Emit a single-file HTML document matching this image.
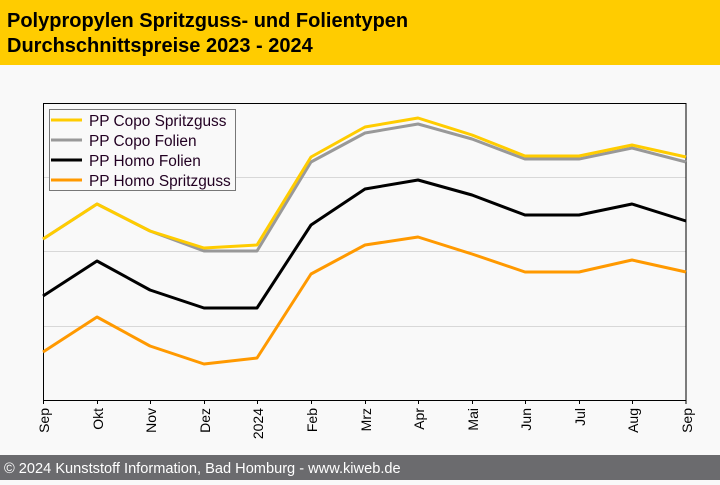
<!DOCTYPE html>
<html><head><meta charset="utf-8"><style>
body{margin:0;width:720px;height:480px;overflow:hidden;background:#f9f9f9;font-family:"Liberation Sans",Arial,sans-serif}
</style></head><body>
<svg width="720" height="480" xmlns="http://www.w3.org/2000/svg" font-family="Liberation Sans, Arial, sans-serif">
<rect x="0" y="0" width="720" height="480" fill="#f9f9f9"/>
<rect x="0" y="0" width="720" height="65" fill="#ffcc00"/>
<text x="7" y="27" font-size="20" font-weight="bold" fill="#000">Polypropylen Spritzguss- und Folientypen</text>
<text x="7" y="52" font-size="20" font-weight="bold" fill="#000">Durchschnittspreise 2023 - 2024</text>
<g stroke="#d8d8d8" stroke-width="1">
<line x1="43" y1="177.5" x2="686" y2="177.5"/>
<line x1="43" y1="251.5" x2="686" y2="251.5"/>
<line x1="43" y1="326.5" x2="686" y2="326.5"/>
</g>
<rect x="43.5" y="103.5" width="642.5" height="297" fill="none" stroke="#000" stroke-width="1"/>
<g stroke="#000" stroke-width="1">
<line x1="43.5" y1="400" x2="43.5" y2="404"/><line x1="97.5" y1="400" x2="97.5" y2="404"/><line x1="150.5" y1="400" x2="150.5" y2="404"/><line x1="204.5" y1="400" x2="204.5" y2="404"/><line x1="257.5" y1="400" x2="257.5" y2="404"/><line x1="311.5" y1="400" x2="311.5" y2="404"/><line x1="365.5" y1="400" x2="365.5" y2="404"/><line x1="418.5" y1="400" x2="418.5" y2="404"/><line x1="472.5" y1="400" x2="472.5" y2="404"/><line x1="525.5" y1="400" x2="525.5" y2="404"/><line x1="579.5" y1="400" x2="579.5" y2="404"/><line x1="632.5" y1="400" x2="632.5" y2="404"/><line x1="686" y1="400" x2="686" y2="404"/>
</g>
<g font-size="14" fill="#000" text-anchor="end">
<text transform="translate(49,408) rotate(-90)">Sep</text>
<text transform="translate(103,408) rotate(-90)">Okt</text>
<text transform="translate(156,408) rotate(-90)">Nov</text>
<text transform="translate(210,408) rotate(-90)">Dez</text>
<text transform="translate(263,408) rotate(-90)">2024</text>
<text transform="translate(317,408) rotate(-90)">Feb</text>
<text transform="translate(371,408) rotate(-90)">Mrz</text>
<text transform="translate(424,408) rotate(-90)">Apr</text>
<text transform="translate(478,408) rotate(-90)">Mai</text>
<text transform="translate(531,408) rotate(-90)">Jun</text>
<text transform="translate(585,408) rotate(-90)">Jul</text>
<text transform="translate(638,408) rotate(-90)">Aug</text>
<text transform="translate(692,408) rotate(-90)">Sep</text>
</g>
<g fill="none" stroke-width="3" stroke-linejoin="round">
<polyline stroke="#ff9900" points="43,352 97,317 150,346 204,364 257,358 311,274 365,245 418,237 472,254 525,272 579,272 632,260 686,272"/>
<polyline stroke="#000" points="43,296 97,261 150,290 204,308 257,308 311,225 365,189 418,180 472,195 525,215 579,215 632,204 686,221"/>
<polyline stroke="#999" points="43,239 97,204 150,231 204,251 257,251 311,162 365,133 418,124 472,139 525,159 579,159 632,148 686,162"/>
<polyline stroke="#ffcc00" points="43,239 97,204 150,231 204,248 257,245 311,157 365,127 418,118 472,135 525,156 579,156 632,145 686,157"/>
</g>
<rect x="49.5" y="109.5" width="186" height="81" fill="#f9f9f9" stroke="#777" stroke-width="1"/>
<g stroke-width="3">
<line x1="51" y1="120" x2="82" y2="120" stroke="#ffcc00"/>
<line x1="51" y1="140" x2="82" y2="140" stroke="#999"/>
<line x1="51" y1="160" x2="82" y2="160" stroke="#000"/>
<line x1="51" y1="180" x2="82" y2="180" stroke="#ff9900"/>
</g>
<g font-size="15.4" fill="#220022">
<text x="89" y="126">PP Copo Spritzguss</text>
<text x="89" y="146">PP Copo Folien</text>
<text x="89" y="166">PP Homo Folien</text>
<text x="89" y="186">PP Homo Spritzguss</text>
</g>
<rect x="0" y="455" width="720" height="25" fill="#6b6b6e"/>
<text x="4" y="473" font-size="14.6" fill="#fff">© 2024 Kunststoff Information, Bad Homburg - www.kiweb.de</text>
</svg>
</body></html>
